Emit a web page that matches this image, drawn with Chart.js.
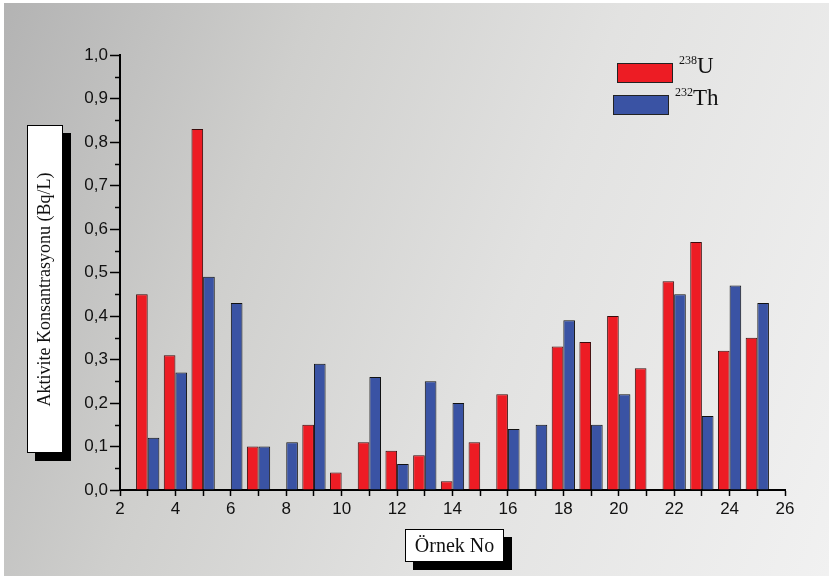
<!DOCTYPE html>
<html>
<head>
<meta charset="utf-8">
<script src="https://cdn.jsdelivr.net/npm/chart.js@4.4.1/dist/chart.umd.min.js"></script>
<style>
  html, body { margin: 0; padding: 0; background: #fff; }
  #wrap {
    position: relative; width: 829px; height: 576px; overflow: hidden;
  }
  #bg {
    position: absolute; left: 4px; top: 3px; right: 0; bottom: 0;
    background: linear-gradient(110deg, #b3b3b3 0%, #cfcfcd 30%, #e2e2e1 60%, #f1f1f1 100%);
  }
  #c { position: absolute; left: 0; top: 0; }
  .box {
    position: absolute; background: #fff; border: 1px solid #000;
    box-shadow: 8px 8px 0 #000; font-family: "Liberation Serif", serif;
    color: #111; display: flex; align-items: center; justify-content: center;
    white-space: nowrap;
  }
  #ytitle { left: 27px; top: 125px; width: 34px; height: 326px; }
  #ytitle span { transform: rotate(-90deg); font-size: 18px; display: block; }
  #xtitle { left: 405px; top: 529px; width: 97px; height: 31px; font-size: 20px; }
  .leg { position: absolute; font-family: "Liberation Serif", serif; color: #111; }
  .leg .sw { position: absolute; width: 54px; height: 18px; border: 1px solid #222; }
  .leg .tx { position: absolute; font-size: 23px; white-space: nowrap; }
  .leg sup { font-size: 12px; vertical-align: 9px; }
</style>
</head>
<body>
<div id="wrap">
  <div id="bg"></div>
  <canvas id="c" width="829" height="576"></canvas>
  <div id="legend"></div>
  <div class="box" id="ytitle"><span>Aktivite Konsantrasyonu (Bq/L)</span></div>
  <div class="box" id="xtitle">Örnek No</div>
</div>
<script>
// sample numbers on the x axis (2..26, bars only at 3..25)
const sampleNo = [2, 3, 4, 5, 6, 7, 8, 9, 10, 11, 12, 13, 14, 15, 16, 17, 18, 19, 20, 21, 22, 23, 24, 25, 26];

const uranium = [null, 0.45, 0.31, 0.83, null, 0.10, null, 0.15, 0.04, 0.11, 0.09, 0.08, 0.02,
  0.11, 0.22, null, 0.33, 0.34, 0.40, 0.28, 0.48, 0.57, 0.32, 0.35, null];
const thorium = [null, 0.12, 0.27, 0.49, 0.43, 0.10, 0.11, 0.29, null, 0.26, 0.06, 0.25, 0.20,
  null, 0.14, 0.15, 0.39, 0.15, 0.22, null, 0.45, 0.17, 0.47, 0.43, null];

const massNumbers = ['238', '232'];
const elements = ['U', 'Th'];

const ctx = document.getElementById('c').getContext('2d');

// short minor ticks half way between the labelled y ticks
const minorTicks = {
  id: 'minorTicks',
  afterDraw: function (chart) {
    const y = chart.scales.y;
    const c = chart.ctx;
    c.save();
    c.strokeStyle = '#000';
    c.lineWidth = 1.5;
    for (let v = 0.05; v < 1; v += 0.1) {
      const py = Math.round(y.getPixelForValue(v)) + 0.5;
      c.beginPath();
      c.moveTo(y.right - 5, py);
      c.lineTo(y.right, py);
      c.stroke();
    }
    c.restore();
  }
};

const chart = new Chart(ctx, {
  type: 'bar',
  data: {
    labels: sampleNo.map(String),
    datasets: [{
      label: massNumbers[0] + elements[0],
      data: uranium,
      backgroundColor: '#ed1c24',
      borderColor: '#3b0b0b',
      borderWidth: 1,
      categoryPercentage: 0.84,
      barPercentage: 1.0
    }, {
      label: massNumbers[1] + elements[1],
      data: thorium,
      backgroundColor: '#3a53a4',
      borderColor: '#111',
      borderWidth: 1,
      categoryPercentage: 0.84,
      barPercentage: 1.0
    }]
  },
  options: {
    responsive: false,
    animation: false,
    layout: { padding: { left: 0, top: 55, right: 44, bottom: 0 } },
    plugins: {
      legend: { display: false },
      tooltip: { enabled: false }
    },
    scales: {
      x: {
        offset: false,
        border: { color: '#000', width: 2 },
        grid: {
          offset: false,
          drawOnChartArea: false,
          color: '#000',
          tickLength: 6,
          tickWidth: 1.5
        },
        ticks: {
          autoSkip: false,
          maxRotation: 0,
          padding: 3,
          color: '#111',
          font: { family: 'Liberation Sans', size: 17 },
          callback: function (value, index) {
            const n = sampleNo[index];
            return n % 2 === 0 ? String(n) : '';
          }
        },
        afterFit: function (scale) { scale.height = 86; }
      },
      y: {
        min: 0,
        max: 1,
        border: { color: '#000', width: 2 },
        grid: {
          drawOnChartArea: false,
          color: '#000',
          tickLength: 10,
          tickWidth: 1.5
        },
        ticks: {
          stepSize: 0.1,
          padding: 2,
          color: '#111',
          font: { family: 'Liberation Sans', size: 17 },
          callback: function (value) {
            return value.toFixed(1).replace('.', ',');
          }
        },
        afterFit: function (scale) { scale.width = 120; }
      }
    }
  },
  plugins: [minorTicks]
});

// legend built from the dataset styles
const legendPos = [{ x: 617, y: 63, tx: 679, ty: 53 }, { x: 613, y: 95, tx: 675, ty: 85 }];
const legendEl = document.getElementById('legend');
chart.data.datasets.forEach(function (ds, i) {
  const item = document.createElement('div');
  item.className = 'leg';
  const p = legendPos[i];
  item.innerHTML =
    '<div class="sw" style="left:' + p.x + 'px;top:' + p.y + 'px;background:' + ds.backgroundColor + '"></div>' +
    '<div class="tx" style="left:' + p.tx + 'px;top:' + p.ty + 'px"><sup>' + massNumbers[i] + '</sup>' + elements[i] + '</div>';
  legendEl.appendChild(item);
});
</script>
</body>
</html>
